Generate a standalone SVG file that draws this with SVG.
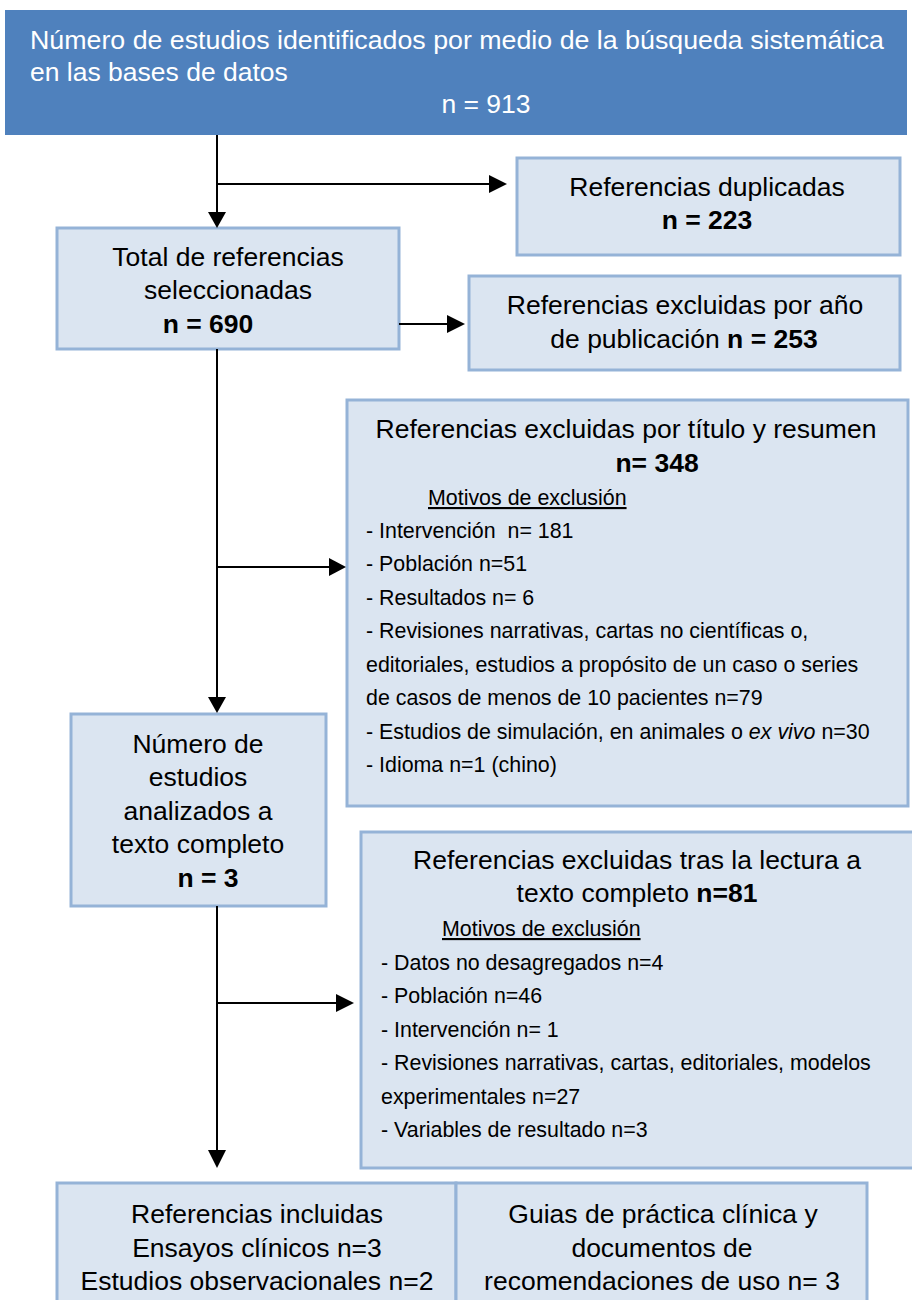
<svg xmlns="http://www.w3.org/2000/svg" width="912" height="1300" viewBox="0 0 912 1300">
<style>
.box{fill:#dbe5f1;stroke:#95b3d7;stroke-width:3}
.top{fill:#4f81bd;stroke:none}
text{font-family:"Liberation Sans",Arial,sans-serif;fill:#000}
.t{font-size:26.5px}
.w{fill:#fff}
.c{text-anchor:middle}
.s{font-size:21.4px}
.b{font-weight:bold}
.u{text-decoration:underline}
.ln{stroke:#000;stroke-width:2;fill:none}
.ah{fill:#000}
</style>
<rect width="912" height="1300" fill="#fff"/>
<g id="n-search">
<rect class="top" x="5" y="10" width="902" height="125"/>
<text class="t w" x="30" y="49" textLength="854" lengthAdjust="spacingAndGlyphs">Número de estudios identificados por medio de la búsqueda sistemática</text>
<text class="t w" x="30" y="81">en las bases de datos</text>
<text class="t w c" x="486" y="113">n = 913</text>
</g>
<g id="n-dup">
<rect class="box" x="517" y="158" width="383" height="97"/>
<text class="t c" x="707" y="196">Referencias duplicadas</text>
<text class="t c b" x="707" y="229">n = 223</text>
</g>
<g id="n-total">
<rect class="box" x="57" y="228" width="342" height="121"/>
<text class="t c" x="228" y="266">Total de referencias</text>
<text class="t c" x="228" y="299">seleccionadas</text>
<text class="t c b" x="208" y="333">n = 690</text>
</g>
<g id="n-year">
<rect class="box" x="469" y="276" width="431" height="94"/>
<text class="t c" x="685" y="314">Referencias excluidas por año</text>
<text class="t c" x="684" y="348">de publicación <tspan class="b">n = 253</tspan></text>
</g>
<g id="n-title">
<rect class="box" x="347" y="400" width="561" height="406"/>
<text class="t c" x="626" y="438">Referencias excluidas por título y resumen</text>
<text class="t c b" x="657" y="472">n= 348</text>
<text class="s u" x="428" y="505">Motivos de exclusión</text>
<text class="s" x="366" y="538" xml:space="preserve">- Intervención  n= 181</text>
<text class="s" x="366" y="571">- Población n=51</text>
<text class="s" x="366" y="605">- Resultados n= 6</text>
<text class="s" x="366" y="638">- Revisiones narrativas, cartas no científicas o,</text>
<text class="s" x="366" y="672">editoriales, estudios a propósito de un caso o series</text>
<text class="s" x="366" y="705">de casos de menos de 10 pacientes n=79</text>
<text class="s" x="366" y="739">- Estudios de simulación, en animales o <tspan font-style="italic">ex vivo</tspan> n=30</text>
<text class="s" x="366" y="772">- Idioma n=1 (chino)</text>
</g>
<g id="n-full">
<rect class="box" x="71" y="714" width="255" height="192"/>
<text class="t c" x="198" y="753">Número de</text>
<text class="t c" x="198" y="786">estudios</text>
<text class="t c" x="198" y="820">analizados a</text>
<text class="t c" x="198" y="853">texto completo</text>
<text class="t c b" x="208" y="887">n = 3</text>
</g>
<g id="n-fullexcl">
<rect class="box" x="361" y="832" width="560" height="336"/>
<text class="t c" x="637" y="869">Referencias excluidas tras la lectura a</text>
<text class="t c" x="637" y="902">texto completo <tspan class="b">n=81</tspan></text>
<text class="s u" x="442" y="936">Motivos de exclusión</text>
<text class="s" x="381" y="970">- Datos no desagregados n=4</text>
<text class="s" x="381" y="1003">- Población n=46</text>
<text class="s" x="381" y="1037">- Intervención n= 1</text>
<text class="s" x="381" y="1070">- Revisiones narrativas, cartas, editoriales, modelos</text>
<text class="s" x="381" y="1104">experimentales n=27</text>
<text class="s" x="381" y="1137">- Variables de resultado n=3</text>
</g>
<g id="n-included">
<rect class="box" x="57" y="1183" width="399" height="130"/>
<text class="t c" x="257" y="1223">Referencias incluidas</text>
<text class="t c" x="257" y="1257">Ensayos clínicos n=3</text>
<text class="t c" x="257" y="1290">Estudios observacionales n=2</text>
</g>
<g id="n-guides">
<rect class="box" x="456" y="1183" width="411" height="130"/>
<text class="t c" x="663" y="1223">Guias de práctica clínica y</text>
<text class="t c" x="662" y="1257">documentos de</text>
<text class="t c" x="662" y="1290">recomendaciones de uso n= 3</text>
</g>
<g id="connectors">
<path class="ln" d="M217 135V212M217 184H490M399 324H448M217 349V697M217 567H330M217 906V1150M217 1003H337"/>
<path class="ah" d="M208 212H226L217 228Z"/>
<path class="ah" d="M489 175V193L507 184Z"/>
<path class="ah" d="M447 315V333L465 324Z"/>
<path class="ah" d="M208 697H226L217 713Z"/>
<path class="ah" d="M329 558V576L346 567Z"/>
<path class="ah" d="M208 1150H226L217 1168Z"/>
<path class="ah" d="M336 994V1012L354 1003Z"/>
</g>
</svg>
